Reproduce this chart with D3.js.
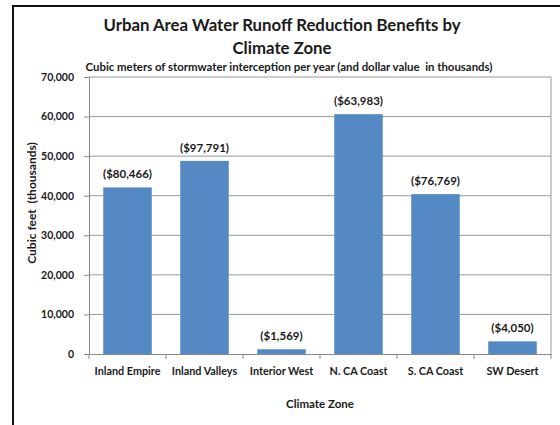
<!DOCTYPE html>
<html><head><meta charset="utf-8">
<script src="https://cdn.jsdelivr.net/npm/d3@7"></script>
<style>
html,body{margin:0;padding:0;background:#fff;}
text{font-family:Lato,"Open Sans",sans-serif;font-weight:bold;fill:#1a1a1a;white-space:pre;}
</style></head>
<body><svg id="c" width="560" height="425"></svg>
<script>
const categories = ["Inland Empire","Inland Valleys","Interior West","N. CA Coast","S. CA Coast","SW Desert"];
const volumes = [42100, 48800, 1200, 60600, 40400, 3200];
const dollarLabels = ["($80,466)","($97,791)","($1,569)","($63,983)","($76,769)","($4,050)"];
const yTicks = [0,10000,20000,30000,40000,50000,60000,70000];
const titleLines = ["Urban Area Water Runoff Reduction Benefits by","Climate Zone"];
const subtitle = "Cubic meters of stormwater interception per year (and dollar value  in thousands)";
const yTitle = "Cubic feet  (thousands)";
const xTitle = "Climate Zone";

const svg = d3.select("#c");
// outer frame
svg.append("rect").attr("x",13).attr("y",6).attr("width",560).attr("height",440)
  .attr("fill","none").attr("stroke","#111").attr("stroke-width",2);

const L=89, R=551, T=77, B=354;
const x = d3.scaleBand().domain(categories).range([L,R]).paddingInner(0.37).paddingOuter(0.185);
const y = d3.scaleLinear().domain([0,70000]).range([B,T]);

// gridlines
svg.append("g").selectAll("line").data(yTicks.filter(d=>d>0)).join("line")
  .attr("x1",L).attr("x2",R).attr("y1",d=>y(d)).attr("y2",d=>y(d))
  .attr("stroke","#999").attr("stroke-width",1);
// right border
svg.append("line").attr("x1",R).attr("x2",R).attr("y1",T).attr("y2",B).attr("stroke","#999");

// bars
svg.append("g").selectAll("rect").data(categories).join("rect")
  .attr("x",d=>x(d)).attr("width",x.bandwidth())
  .attr("y",(d,i)=>y(volumes[i])).attr("height",(d,i)=>B-y(volumes[i]))
  .attr("fill","#5589c3");

// bar labels
svg.append("g").selectAll("text").data(categories).join("text")
  .attr("x",d=>x(d)+x.bandwidth()/2).attr("y",(d,i)=>y(volumes[i])-9)
  .attr("text-anchor","middle").attr("font-size",11.5).text((d,i)=>dollarLabels[i]);

// y axis
const yAxis = d3.axisLeft(y).tickValues(yTicks).tickFormat(d3.format(",")).tickSize(5).tickPadding(10);
const gy = svg.append("g").attr("transform",`translate(${L},0)`).call(yAxis);
gy.selectAll("path,line").attr("stroke","#888");
gy.selectAll("text").attr("font-size",10.5).attr("font-family","Lato,sans-serif").attr("font-weight","bold").attr("fill","#1a1a1a");

// x axis
const xAxis = d3.axisBottom(x).tickSize(0).tickPadding(13);
const gx = svg.append("g").attr("transform",`translate(0,${B})`).call(xAxis);
gx.select("path").attr("stroke","#888");
gx.selectAll("text").attr("font-size",10.8).attr("font-family","Lato,sans-serif").attr("font-weight","bold").attr("fill","#1a1a1a");
// category separator ticks
const sepX = d3.range(categories.length+1).map(i=>L+i*(R-L)/categories.length);
svg.append("g").selectAll("line").data(sepX).join("line")
  .attr("x1",d=>d).attr("x2",d=>d).attr("y1",B).attr("y2",B+5).attr("stroke","#888");

// titles
svg.append("text").attr("x",282).attr("y",31).attr("text-anchor","middle").attr("font-size",16.8).text(titleLines[0]);
svg.append("text").attr("x",282).attr("y",54).attr("text-anchor","middle").attr("font-size",16.8).text(titleLines[1]);
svg.append("text").attr("x",289).attr("y",71).attr("text-anchor","middle").attr("font-size",11.4).text(subtitle);
svg.append("text").attr("transform","translate(36,203) rotate(-90)").attr("text-anchor","middle").attr("font-size",12).text(yTitle);
svg.append("text").attr("x",320).attr("y",408).attr("text-anchor","middle").attr("font-size",11.5).text(xTitle);
</script></body></html>
